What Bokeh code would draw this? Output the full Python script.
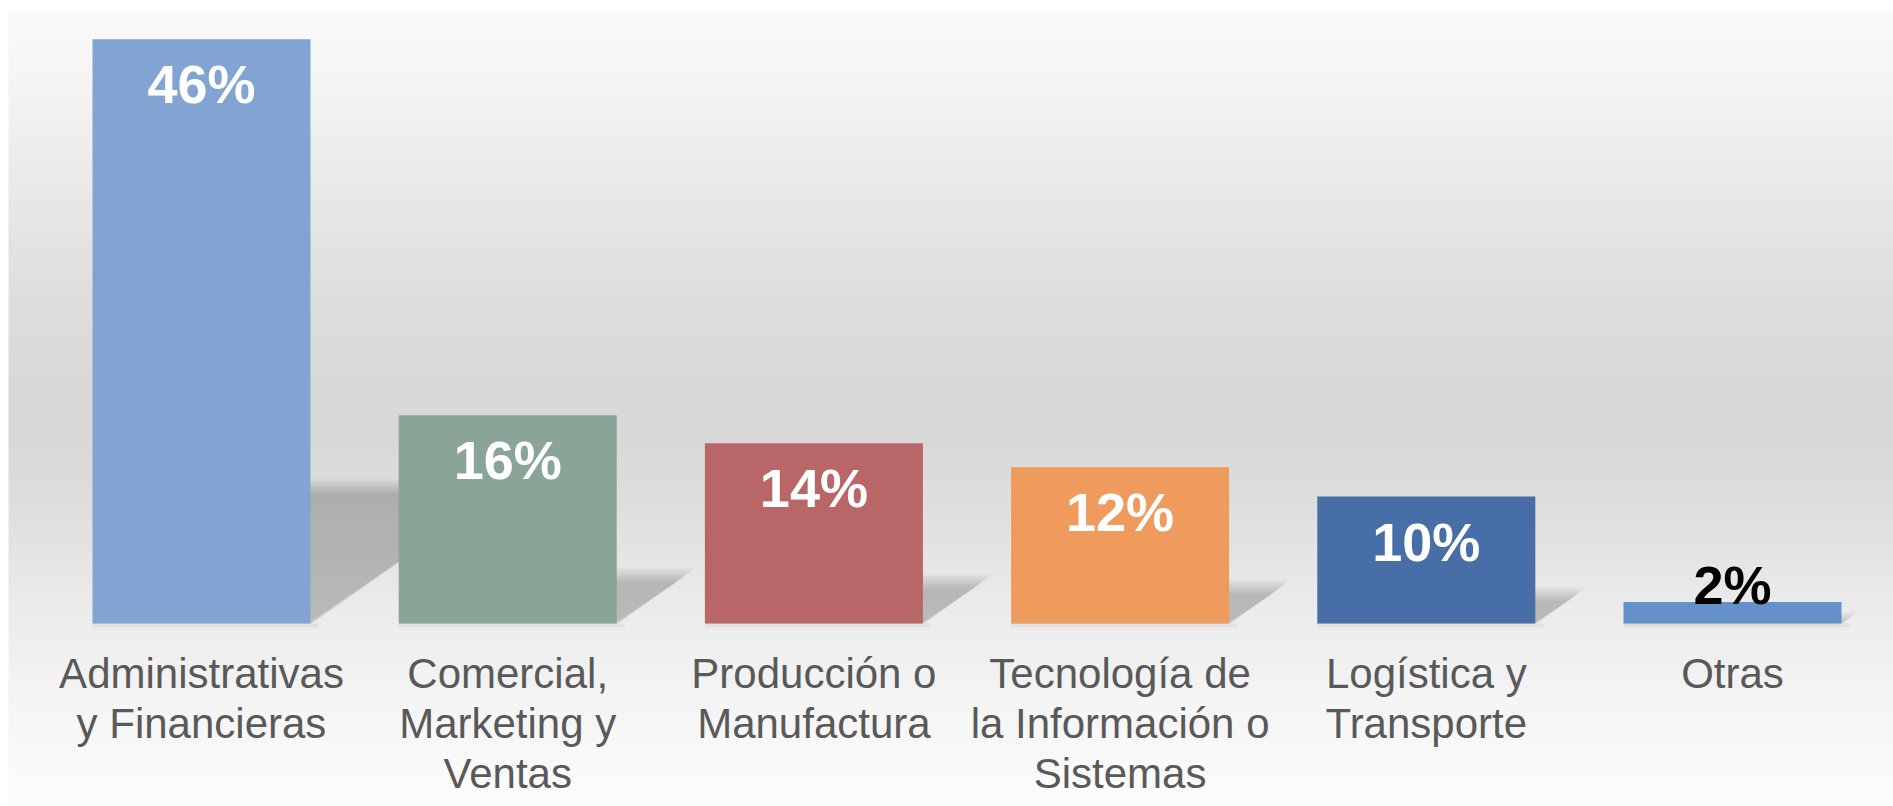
import numpy as np
from bokeh.plotting import figure
from bokeh.models import Range1d
from bokeh.core.properties import value
from bokeh.embed import file_html
from bokeh.resources import INLINE

# ---- data ----
categories = [
    "Administrativas\ny Financieras",
    "Comercial,\nMarketing y\nVentas",
    "Producción o\nManufactura",
    "Tecnología de\nla Información o\nSistemas",
    "Logística y\nTransporte",
    "Otras",
]
values = [46.0, 16.4, 14.2, 12.3, 10.0, 1.7]
colors = ["#82A4D2", "#8AA598", "#B86667", "#EE9B5D", "#476EA6", "#6491C8"]
labels = [f"{round(v)}%" for v in values]

# ---- geometry ----
W, H = 1893, 806
PXX, PXY = 306.2, 12.7          # pixels per x unit / per percentage point
CX, BASE = 201, 623             # pixel position of first bar centre / baseline
X0, X1 = -CX / PXX, (W - CX) / PXX
Y0, Y1 = -(H - BASE) / PXY, BASE / PXY
BW = 0.712
xs = list(range(len(values)))

p = figure(width=W, height=H, x_range=Range1d(X0, X1), y_range=Range1d(Y0, Y1),
           output_backend="svg", toolbar_location=None, min_border=0,
           background_fill_color="white", border_fill_color="white")
p.axis.visible = False
p.grid.visible = False
p.outline_line_color = None

# ---- gradient background (panel starts 8px from left, 10px from top) ----
stops_y = [0, 100, 200, 300, 380, 430, 480, 540, 600, 650, 700, 806]
stops_g = [252, 243, 232, 222, 217, 216, 220, 227, 235, 240, 245, 253]
rows = np.arange(10, H)
g = np.interp(rows, stops_y, stops_g).astype(np.uint32)
col = (255 << 24) | (g << 16) | (g << 8) | g
img = np.repeat(col[:, None], 2, axis=1)
img = np.flipud(img).astype(np.uint32)
gx0 = X0 + 8 / PXX
p.image_rgba(image=[img], x=gx0, y=Y0, dw=X1 - gx0, dh=(Y1 - 10 / PXY) - Y0)

# ---- soft perspective shadows ----
n_layers = 8
a = 1 - (1 - 0.19) ** (1 / n_layers)
sx, sy = [], []
for i, v in zip(xs, values):
    hpx = v * PXY
    xl, xr = i - BW / 2, i + BW / 2
    for d in np.linspace(-7, 7, n_layers):
        top = 0.235 * v + d / PXY
        dx = (0.337 * hpx) / PXX
        ex = 1.2 * d / PXX
        sx.append([xl, xr + ex * 0.3, xr + dx + ex, xl + dx])
        sy.append([0, 0, top, top])
p.patches(xs=sx, ys=sy, fill_color="black", fill_alpha=a, line_color=None)

# faint contact shadow under bars
p.quad(left=[i - BW / 2 for i in xs], right=[i + BW / 2 + 8 / PXX for i in xs],
       top=[0] * len(xs), bottom=[-4 / PXY] * len(xs),
       fill_color="black", fill_alpha=0.05, line_color=None)

# ---- bars ----
p.vbar(x=xs, top=values, bottom=0, width=BW, fill_color=colors, line_color=None)

# ---- value labels ----
inside = [v * PXY > 70 for v in values]
ly = [(v - 45 / PXY) if ok else (v + 17 / PXY) for v, ok in zip(values, inside)]
lc = ["white" if ok else "black" for ok in inside]
p.text(x=xs, y=ly, text=labels, text_color=lc, text_align="center",
       text_baseline="alphabetic", text_font=value("Liberation Sans"),
       text_font_style="bold", text_font_size="54px")

# ---- category labels ----
p.text(x=xs, y=[-26 / PXY] * len(xs), text=categories, text_color="#595959",
       text_align="center", text_baseline="top", text_font=value("Liberation Sans"),
       text_font_size="42px", text_line_height=1.066)

open("out.html", "w").write(file_html(p, INLINE))
